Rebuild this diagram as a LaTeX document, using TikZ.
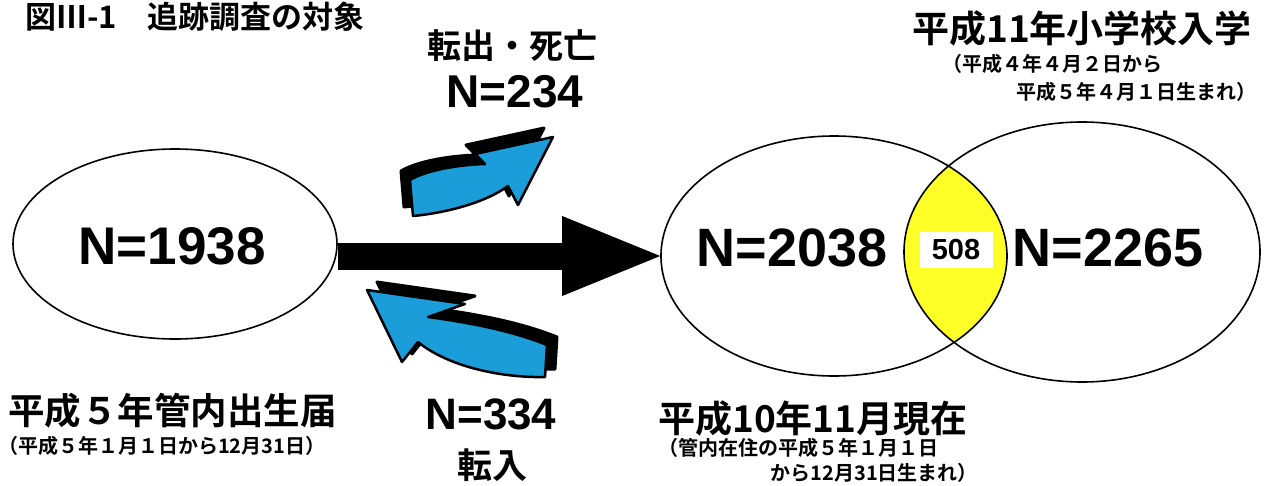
\documentclass[tikz,border=0pt]{standalone}
\usepackage{fontspec}
\setmainfont{Liberation Sans}
\newfontfamily\jp{Noto Sans CJK JP Bold}
\usetikzlibrary{shapes.geometric,arrows.meta}
\definecolor{arrowblue}{RGB}{27,157,217}
\definecolor{lensyellow}{RGB}{255,255,40}
\tikzset{
 num/.style={font=\fontsize{#1}{#1}\selectfont\bfseries, inner sep=0pt},
 jptext/.style={font=\fontsize{#1}{#1}\selectfont\jp, inner sep=0pt},
 oval/.style={ellipse, draw, line width=1.6pt, inner sep=0pt},
 bendarrow/.style={fill=arrowblue, draw=black, line width=2.5pt, line join=round},
 arrowshadow/.style={fill=black, draw=black, line width=3pt, line join=round},
 bigarrow/.style={line width=27pt, -{Triangle[length=98pt, width=80pt, line width=0pt]}},
}
\newcommand\outarrow[1]{\path[#1] (410,180) .. controls (425,171) and (455,165) .. (485,164) -- (475,154) -- (553,137) -- (518,205) -- (508,186) .. controls (485,203) and (445,213) .. (413,216) -- cycle;}
\newcommand\inarrow[1]{\path[#1] (367,290) -- (465,304) -- (428,317) .. controls (465,322) and (510,330) .. (547,345) -- (545,377) .. controls (505,378) and (450,368) .. (418,342) -- (402,362) -- cycle;}
\begin{document}
\begin{tikzpicture}[x=1pt,y=-1pt]
\useasboundingbox (0,0) rectangle (1267,485);
% lens
\begin{scope}
\clip (834,256) ellipse [x radius=173pt, y radius=120pt];
\fill[lensyellow] (1082,252) ellipse [x radius=178pt, y radius=130pt];
\end{scope}
\node[oval, minimum width=324pt, minimum height=190pt] (A) at (175,244) {};
\node[oval, minimum width=346pt, minimum height=240pt] (B) at (834,256) {};
\node[oval, minimum width=356pt, minimum height=260pt] (C) at (1082,252) {};
% big arrow
\draw[bigarrow] (A.east |- B.west) -- (B.west);
% blue arrows
\begin{scope}[shift={(-9,-9)}]\outarrow{arrowshadow}\end{scope}
\outarrow{bendarrow}
\begin{scope}[shift={(10,-8)}]\inarrow{arrowshadow}\end{scope}
\inarrow{bendarrow}
% numbers
\node[num=53] (nA) at (172,246) {N=1938};
\node[num=54] (nB) at (792,248) {N=2038};
\node[num=54] (nC) at (1108,248) {N=2265};
\node[num=29, fill=white, minimum width=73pt, minimum height=36pt] (nBC) at (956,250) {508};
\node[num=46] (nout) at (515,92) {N=234};
\node[num=44] (nin) at (491,414) {N=334};
% texts
\node[jptext=31, anchor=west] (title) at (25,17) {図Ⅲ-1　追跡調査の対象};
\node[jptext=34] (outlbl) at (512,46) {転出・死亡};
\node[jptext=35] (inlbl) at (492,465) {転入};
\node[jptext=37] (capC) at (1082,28) {平成11年小学校入学};
\node[jptext=20, anchor=west] (capC1) at (942,64) {（平成４年４月２日から};
\node[jptext=20, anchor=east] (capC2) at (1257,92) {平成５年４月１日生まれ）};
\node[jptext=36.5, anchor=west] (capA) at (8,411) {平成５年管内出生届};
\node[jptext=20, anchor=west] (capA1) at (-2,446) {（平成５年１月１日から12月31日）};
\node[jptext=37, anchor=west] (capB) at (658,418) {平成10年11月現在};
\node[jptext=20, anchor=west] (capB1) at (658,448) {（管内在住の平成５年１月１日};
\node[jptext=20, anchor=east] (capB2) at (978,473) {から12月31日生まれ）};
\end{tikzpicture}
\end{document}
